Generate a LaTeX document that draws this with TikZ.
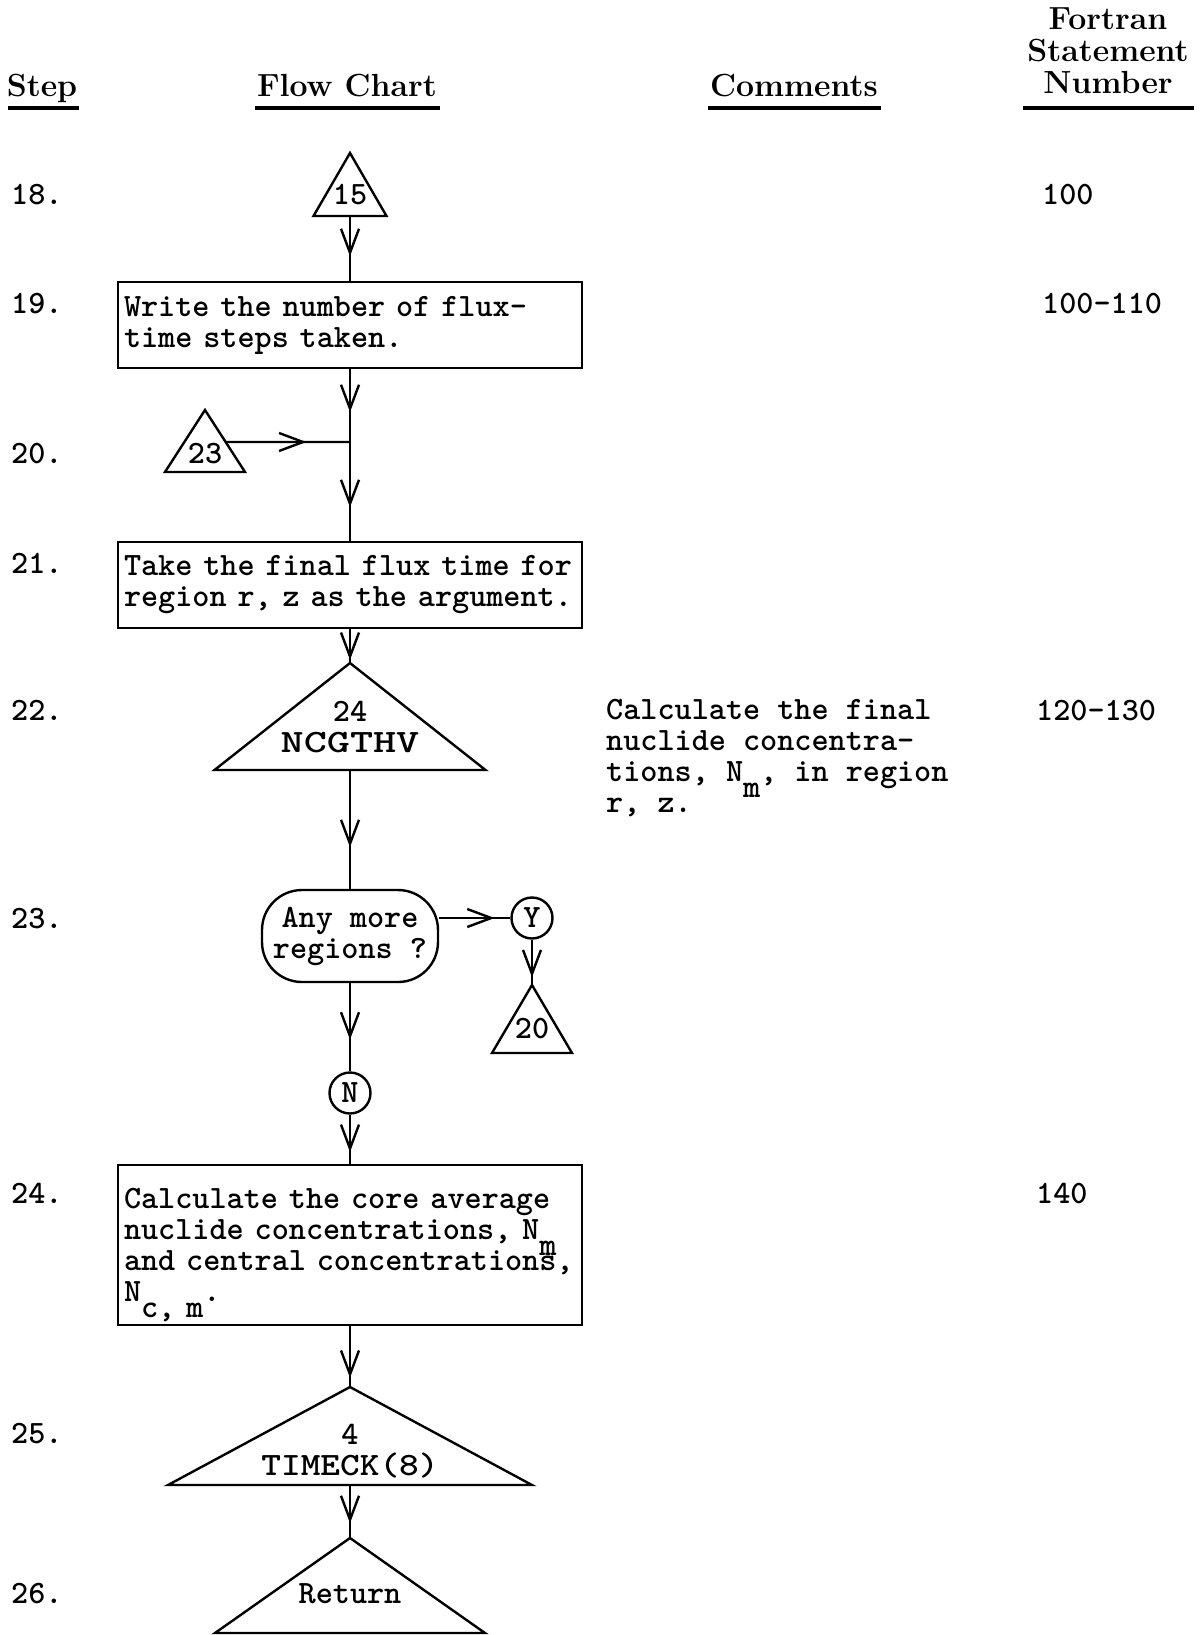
\documentclass[tikz,border=0pt]{standalone}
\usepackage{tikz}
\usetikzlibrary{arrows.meta, decorations.markings, positioning, calc}

\tikzset{flowtip/.tip={Straight Barb[length=12pt,width=9pt]}}
\tikzset{
	arrow/.style={decoration={markings, mark=at position #1 with {\arrow{flowtip}}}, postaction={decorate}},
	arrow/.default=0.7,
	tri/.style n args={3}{minimum width=#1, minimum height=#2, text height=#3, text depth=0pt, inner sep=0pt, outer sep=0pt, align=center}
}
\tikzstyle{process} = [rectangle, draw=black, minimum width=232pt, inner xsep=3pt, text width=226pt, align=left]
\tikzstyle{decision} = [rectangle, rounded corners=20pt, draw=black, minimum width=88pt, minimum height=46pt, inner sep=0pt, align=center]
\tikzstyle{connector} = [circle, draw=black, minimum size=20.5pt, inner sep=0pt]
\tikzstyle{heading} = [font=\rmfamily\bfseries\fontsize{16}{16}\selectfont, inner sep=0pt]
\tikzstyle{number} = [anchor=base west, inner sep=0pt]
\tikzstyle{rule} = [line width=1.8pt]
\newcommand\lowr[1]{\raisebox{-8pt}[0pt][0pt]{#1}}

\begin{document}
\begin{tikzpicture}[x=0.5pt, y=-0.5pt, line width=1.2pt, font=\ttfamily\bfseries\fontsize{16.3}{15.5}\selectfont]
\useasboundingbox (0,0) rectangle (1204,1635);

% Column headings
\node (hstep) [heading, anchor=base] at (42,96) {Step};
\node (hflow) [heading, anchor=base] at (347,96) {Flow Chart};
\node (hcomm) [heading, anchor=base] at (794,96) {Comments};
\node (hfort) [heading, anchor=south, align=center] at (1108,95) {Fortran\\Statement\\Number};
\draw [rule] (8,108) -- (79,108);
\draw [rule] (255,108) -- (440,108);
\draw [rule] (708,108) -- (881,108);
\draw [rule] (1023,108) -- (1194,108);

% Step numbers
\foreach \n/\y in {18/204, 19/313, 20/463, 21/573, 22/720, 23/928, 24/1203, 25/1443, 26/1603}
	\node (s\n) [number] at (10,\y) {\n.};

% Fortran statement numbers
\node (f18) [number] at (1041,204) {100};
\node (f19) [number] at (1041,313) {100-110};
\node (f22) [number] at (1035,720) {120-130};
\node (f24) [number] at (1035,1203) {140};

% Comment (base is the last line)
\node (c22) [number, align=left] at (605,812) {Calculate the final\\nuclide concentra-\\tions, N\lowr{m}, in region\\r, z.};

% Placement of nodes
\node (t15) [tri={36.5pt}{31.5pt}{19.5pt}] at (350,184.5) {15};
\node (box19) [process, minimum height=43pt] at (350,325) {Write the number of flux-\\time steps taken.};
\coordinate (join) at (350,442);
\node (t23) [tri={40pt}{31pt}{22pt}] at (205,441) {23};
\coordinate (t23out) at ($(t23.north)!0.516!(t23.south east)$);
\node (box21) [process, minimum height=43pt] at (350,585) {Take the final flux time for\\region r, z as the argument.};
\node (t22) [tri={135.5pt}{53.5pt}{35.5pt}] at (350,716.5) {24\\\scalebox{1.35}[1]{NCGTHV}};
\node (dec23) [decision] at (350,936) {Any more\\regions ?};
\node (yes) [connector] at (532,918) {Y};
\node (t20) [tri={40pt}{34pt}{19pt}] at (532,1019) {20};
\node (no) [connector] at (350,1093) {N};
\node (box24) [process, minimum height=80pt] at (350,1245) {Calculate the core average\\nuclide concentrations, N\lowr{m}\\and central concentrations,\\N\lowr{c, m}.};
\node (t25) [tri={182pt}{49pt}{39pt}] at (350,1436) {4\\\scalebox{1.15}[1]{TIMECK(8)}};
\node (t26) [tri={135pt}{47.5pt}{17.5pt}] at (350,1585.5) {Return};

% Triangle outlines
\foreach \t in {t15,t23,t22,t20,t25,t26}
	\draw (\t.north) -- (\t.south east) -- (\t.south west) -- cycle;

% Placement of edges
\draw [arrow=0.62] (t15.south) -- (box19.north);
\draw [arrow=0.59] (box19.south) -- (join);
\draw [arrow=0.65] (t23out) -- (join);
\draw [arrow=0.66] (join) -- (box21.north);
\draw [arrow=0.91] (box21.south) -- (t22.north);
\draw [arrow=0.65] (t22.south) -- (dec23.north);
\draw [arrow=0.78] (dec23.east |- yes.west) -- (yes.west);
\draw [arrow=0.83] (yes.south) -- (t20.north);
\draw [arrow=0.64] (dec23.south) -- (no.north);
\draw [arrow=0.76] (no.south) -- (box24.north);
\draw [arrow=0.85] (box24.south) -- (t25.north);
\draw [arrow=0.72] (t25.south) -- (t26.north);

\end{tikzpicture}
\end{document}
